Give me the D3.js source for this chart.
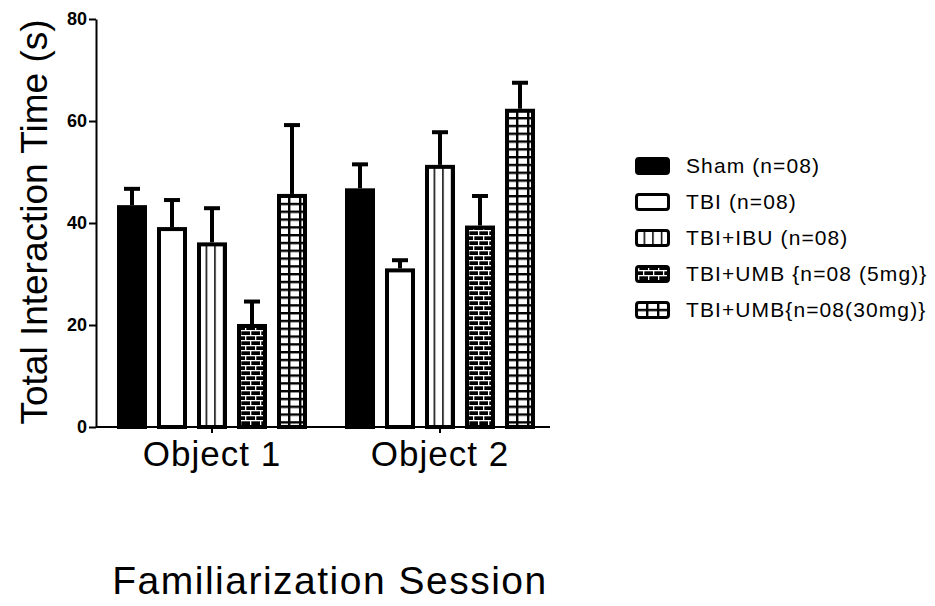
<html>
<head>
    <title>Familiarization Session</title>
    <script src="https://d3js.org/d3.v7.min.js"></script>
    <style>
        body { margin: 0; background: #fff; }
        svg text { font-family: "Liberation Sans", Arial, sans-serif; fill: #000; }
    </style>
</head>
<body>
    <svg width="935" height="606"></svg>

    <script>
        // data
        const groups = ["Object 1", "Object 2"];
        const series = ["Sham (n=08)", "TBI (n=08)", "TBI+IBU (n=08)", "TBI+UMB {n=08 (5mg)}", "TBI+UMB{n=08(30mg)}"];
        const means = [
            [43.5, 39.2, 36.2, 20.2, 45.7],
            [46.8, 31.1, 51.4, 39.5, 62.4]
        ];
        const sems = [
            [3.2, 5.3, 6.7, 4.4, 13.5],
            [4.7, 1.6, 6.4, 5.8, 5.1]
        ];
        const yTicks = [0, 20, 40, 60, 80];
        const fills = ["#000", "#fff", "url(#vlines)", "url(#brick)", "url(#grid)"];

        const svg = d3.select('svg');
        const defs = svg.append('defs');

        // vertical lines (TBI+IBU)
        const vl = defs.append('pattern').attr('id', 'vlines')
            .attr('patternUnits', 'userSpaceOnUse').attr('width', 8.6).attr('height', 10);
        vl.append('rect').attr('width', 8.6).attr('height', 10).attr('fill', '#fff');
        vl.append('rect').attr('x', 0).attr('width', 1.5).attr('height', 10).attr('fill', '#000');

        // white bricks on black (5mg)
        const br = defs.append('pattern').attr('id', 'brick')
            .attr('patternUnits', 'userSpaceOnUse').attr('width', 10).attr('height', 10);
        br.append('rect').attr('width', 10).attr('height', 10).attr('fill', '#000');
        br.append('rect').attr('y', 0).attr('width', 10).attr('height', 1.3).attr('fill', '#fff');
        br.append('rect').attr('y', 5).attr('width', 10).attr('height', 1.3).attr('fill', '#fff');
        br.append('rect').attr('x', 3).attr('y', 0).attr('width', 1.3).attr('height', 5).attr('fill', '#fff');
        br.append('rect').attr('x', 8).attr('y', 5).attr('width', 1.3).attr('height', 5).attr('fill', '#fff');

        // black grid on white (30mg)
        const gr = defs.append('pattern').attr('id', 'grid')
            .attr('patternUnits', 'userSpaceOnUse').attr('width', 11).attr('height', 7.8);
        gr.append('rect').attr('width', 11).attr('height', 7.8).attr('fill', '#fff');
        gr.append('rect').attr('width', 2.4).attr('height', 7.8).attr('fill', '#000');
        gr.append('rect').attr('width', 11).attr('height', 2.4).attr('fill', '#000');

        const y = d3.scaleLinear().domain([0, 80]).range([427, 19]);
        const x0 = d3.scaleBand().domain(groups).range([98, 554]);
        const x1 = d3.scaleBand().domain(series).range([19, 209]).paddingInner(0.25);

        // bars
        groups.forEach((g, gi) => {
            const gG = svg.append('g').attr('transform', `translate(${x0(g)},0)`);
            series.forEach((s, si) => {
                const v = means[gi][si];
                const e = sems[gi][si];
                const cx = x1(s) + x1.bandwidth() / 2;
                // error bar (upper only)
                gG.append('line')
                    .attr('x1', cx).attr('x2', cx)
                    .attr('y1', y(v)).attr('y2', y(v + e))
                    .attr('stroke', '#000').attr('stroke-width', 4);
                gG.append('line')
                    .attr('x1', cx - 8).attr('x2', cx + 8)
                    .attr('y1', y(v + e)).attr('y2', y(v + e))
                    .attr('stroke', '#000').attr('stroke-width', 4);
                const bG = gG.append('g').attr('transform', `translate(${x1(s)},0)`);
                bG.append('rect')
                    .attr('x', 2).attr('y', y(v) + 2)
                    .attr('width', x1.bandwidth() - 4)
                    .attr('height', y(0) - y(v) - 2)
                    .attr('fill', fills[si])
                    .attr('stroke', '#000').attr('stroke-width', 4);
            });
        });

        // axes
        const yAxis = svg.append('g').attr('transform', 'translate(96,0)')
            .call(d3.axisLeft(y).tickValues(yTicks).tickSize(7).tickSizeOuter(0).tickPadding(2));
        yAxis.select('.domain').attr('stroke-width', 2);
        yAxis.selectAll('.tick line').attr('stroke-width', 2);
        yAxis.selectAll('.tick text')
            .style('font-size', '18px').style('font-weight', 'bold');

        const xAxis = svg.append('g').attr('transform', 'translate(0,427)')
            .call(d3.axisBottom(x0).tickSize(6).tickSizeOuter(0).tickPadding(8));
        xAxis.select('.domain').attr('stroke-width', 2).attr('d', 'M96,0H550');
        xAxis.selectAll('.tick line').attr('stroke-width', 2);
        xAxis.selectAll('.tick text')
            .style('font-size', '35px').attr('letter-spacing', 1);

        // axis titles
        svg.append('text')
            .attr('transform', 'translate(47,222) rotate(-90)')
            .attr('text-anchor', 'middle')
            .style('font-size', '37px')
            .text('Total Interaction Time (s)');

        svg.append('text')
            .attr('x', 330).attr('y', 594)
            .attr('text-anchor', 'middle')
            .style('font-size', '39px').attr('letter-spacing', 1.5)
            .text('Familiarization Session');

        // legend
        const legendY = d3.scalePoint().domain(series).range([166, 310]);
        const legendG = svg.append('g');
        series.forEach((s, si) => {
            const row = legendG.append('g').attr('transform', `translate(635,${legendY(s) - 9})`);
            row.append('rect')
                .attr('x', 1.5).attr('y', 1.5).attr('width', 32).attr('height', 15)
                .attr('rx', 2.5)
                .attr('fill', fills[si])
                .attr('stroke', '#000').attr('stroke-width', 3);
            row.append('text')
                .attr('x', 51).attr('y', 9).attr('dy', '0.35em')
                .style('font-size', '21px').attr('letter-spacing', 1.1)
                .text(s);
        });
    </script>
</body>
</html>
